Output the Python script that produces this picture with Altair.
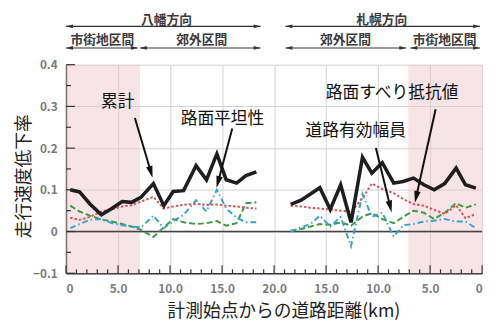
import math
import altair as alt
import pandas as pd

# ---------------- data ----------------
left_km = [0.4, 1.3, 2.3, 3.4, 4.4, 5.4, 6.3, 7.2, 8.4, 9.4, 10.3, 11.3, 12.5, 13.5, 14.5, 15.4, 16.4, 17.3, 18.3]
right_km = [21.6, 22.6, 23.5, 24.4, 25.4, 26.4, 27.4, 28.5, 29.4, 30.4, 31.5, 32.4, 33.4, 34.4, 35.4, 36.4, 37.5, 38.4, 39.4]

total_L = [0.100, 0.095, 0.066, 0.040, 0.055, 0.072, 0.070, 0.082, 0.115, 0.062, 0.096, 0.098, 0.158, 0.124, 0.186, 0.124, 0.116, 0.134, 0.143]
skid_L = [0.033, 0.028, 0.035, 0.048, 0.053, 0.060, 0.063, 0.072, 0.083, 0.055, 0.060, 0.064, 0.066, 0.064, 0.065, 0.062, 0.060, 0.057, 0.055]
flat_L = [0.008, 0.018, 0.028, 0.030, 0.020, 0.015, 0.012, 0.010, 0.038, 0.008, 0.025, 0.040, 0.075, 0.048, 0.100, 0.055, 0.033, 0.022, 0.022]
width_L = [0.062, 0.048, 0.038, 0.029, 0.024, 0.018, 0.012, 0.004, -0.013, 0.010, 0.030, 0.022, 0.018, 0.020, 0.025, 0.014, 0.020, 0.068, 0.070]

total_R = [0.065, 0.075, 0.090, 0.105, 0.053, 0.112, 0.022, 0.178, 0.140, 0.165, 0.116, 0.120, 0.128, 0.112, 0.100, 0.115, 0.152, 0.112, 0.104]
skid_R = [0.062, 0.060, 0.057, 0.055, 0.053, 0.050, 0.047, 0.080, 0.115, 0.102, 0.092, 0.078, 0.066, 0.062, 0.052, 0.042, 0.063, 0.032, 0.042]
flat_R = [0.000, 0.010, 0.018, 0.038, 0.012, 0.035, -0.035, 0.090, 0.035, 0.045, -0.012, 0.015, 0.018, 0.024, 0.026, 0.030, 0.024, 0.024, 0.008]
width_R = [0.002, 0.006, 0.012, 0.018, 0.016, 0.022, 0.014, 0.036, 0.044, 0.030, 0.020, 0.035, 0.050, 0.045, 0.030, 0.045, 0.068, 0.057, 0.065]

# urban (市街地) shaded sections on the 0-40 axis
shade_start = [0.0, 32.9]
shade_end = [7.1, 40.0]

# axis ticks
x_major = [0, 5, 10, 15, 20, 25, 30, 35, 40]
x_minor = [v for v in range(0, 41) if v % 5 != 0]
y_major = [-0.1, 0.0, 0.1, 0.2, 0.3, 0.4]
y_minor = [-0.05, 0.05, 0.15, 0.25, 0.35]

# annotations in plot
ann_text = ["累計", "路面平坦性", "道路有効幅員", "路面すべり抵抗値"]
ann_tx = [4.96, 15.04, 27.85, 31.35]
ann_ty = [0.310, 0.270, 0.242, 0.333]
arr_x0 = [6.62, 15.98, 29.79, 35.53]
arr_y0 = [0.272, 0.247, 0.200, 0.293]
arr_x1 = [8.32, 14.47, 31.30, 33.54]
arr_y1 = [0.129, 0.105, 0.046, 0.069]

# header (direction / section)
dir_text = ["八幡方向", "札幌方向"]
dir_x0 = [0.0, 21.1]
dir_x1 = [18.7, 39.8]
dir_tx = [9.65, 30.35]
sec_text = ["市街地区間", "郊外区間", "郊外区間", "市街地区間"]
sec_x0 = [0.0, 7.1, 21.1, 33.1]
sec_x1 = [6.9, 18.7, 32.7, 39.8]
sec_tx = [3.5, 13.05, 26.86, 36.4]

# ---------------- layout ----------------
W, H = 423, 212
XD = [0, 40]
YD = [-0.1, 0.4]
kx = W / (XD[1] - XD[0])
ky = H / (YD[1] - YD[0])
FONT = "Noto Sans CJK JP"

xs = alt.Scale(domain=XD, nice=False, zero=False)
ys = alt.Scale(domain=YD, nice=False, zero=False)

rows = []
for name, L, R in [("total", total_L, total_R), ("skid", skid_L, skid_R),
                   ("flat", flat_L, flat_R), ("width", width_L, width_R)]:
    for x, y in zip(left_km, L):
        rows.append({"x": x, "y": y, "series": name, "side": "L"})
    for x, y in zip(right_km, R):
        rows.append({"x": x, "y": y, "series": name, "side": "R"})
df = pd.DataFrame(rows)

x_label_expr = ("(datum.value == 0 || datum.value == 40) ? '0' : "
                "format(datum.value <= 20 ? datum.value : 40 - datum.value, '.1f')")
y_label_expr = "datum.value == 0 ? '0' : format(datum.value, '.1f')"

x_axis = alt.Axis(values=x_major, labelExpr=x_label_expr, ticks=False, tickSize=0,
                  grid=True, gridColor="#d2d2d2", gridWidth=1,
                  domainColor="#333333", domainWidth=1.5,
                  labelFont=FONT, labelFontSize=12, labelFontWeight="bold", labelColor="#7a7a7a",
                  labelPadding=11,
                  title="計測始点からの道路距離(km)", titleFont=FONT, titleFontSize=18,
                  titleFontWeight="normal", titleColor="#222222",
                  titleX=221, titleY=30, titleAlign="center", titleBaseline="top")
y_axis = alt.Axis(values=y_major, labelExpr=y_label_expr, ticks=False, tickSize=0,
                  grid=True, gridColor="#d2d2d2", gridWidth=1,
                  domainColor="#333333", domainWidth=1.5,
                  labelFont=FONT, labelFontSize=12, labelFontWeight="bold", labelColor="#7a7a7a",
                  labelPadding=9,
                  title="走行速度低下率", titleFont=FONT, titleFontSize=18,
                  titleFontWeight="normal", titleColor="#222222",
                  titleAngle=270, titleX=-42, titleY=113, titleAlign="center", titleBaseline="middle")


def X(field):
    return alt.X(field, scale=xs, axis=x_axis)


def Y(field):
    return alt.Y(field, scale=ys, axis=y_axis)


# shaded urban sections
shade_df = pd.DataFrame({"a": shade_start, "b": shade_end})
shade_df["lo"] = YD[0]
shade_df["hi"] = YD[1]
shade = alt.Chart(shade_df).mark_rect(color="#eec3c9", opacity=0.45).encode(
    x=X("a:Q"), x2="b:Q", y=Y("lo:Q"), y2="hi:Q",
)

zero = alt.Chart(pd.DataFrame({"z": [0.0]})).mark_rule(color="#444444", strokeWidth=1.5).encode(
    y=Y("z:Q")
)

# inward ticks
xt = pd.DataFrame({"x": x_major + x_minor,
                   "len": [8] * len(x_major) + [4] * len(x_minor)})
xt["y0"] = YD[0]
xt["y1"] = YD[0] + xt["len"] / ky
xticks = alt.Chart(xt).mark_rule(color="#333333", strokeWidth=1.2).encode(
    x=X("x:Q"), y=Y("y0:Q"), y2="y1:Q",
)
yt = pd.DataFrame({"y": y_major + y_minor,
                   "len": [9] * len(y_major) + [5] * len(y_minor)})
yt["x0"] = XD[0]
yt["x1"] = XD[0] + yt["len"] / kx
yticks = alt.Chart(yt).mark_rule(color="#333333", strokeWidth=1.2).encode(
    y=Y("y:Q"), x=X("x0:Q"), x2="x1:Q",
)


def series_line(name, color, width, dash=None):
    kw = dict(color=color, strokeWidth=width, strokeJoin="miter")
    if dash:
        kw["strokeDash"] = dash
    return alt.Chart(df).transform_filter(alt.datum.series == name).mark_line(**kw).encode(
        x=X("x:Q"), y=Y("y:Q"), detail="side:N",
    )


l_width = series_line("width", "#3e9a45", 2, [6, 3])
l_flat = series_line("flat", "#38a3d0", 2, [6, 3, 1.5, 3])
l_skid = series_line("skid", "#d2555a", 2, [2.5, 2])
l_total = series_line("total", "#1e1e1e", 3.6)

# annotation arrows
HEAD = 12.0
ARROW_SHAPE = "M0,-1L0.55,1L-0.55,1Z"
hx, hy, ha = [], [], []
for x0, y0, x1, y1 in zip(arr_x0, arr_y0, arr_x1, arr_y1):
    dxp = (x1 - x0) * kx
    dyp = -(y1 - y0) * ky
    ln = math.hypot(dxp, dyp)
    ux, uy = dxp / ln, dyp / ln
    hx.append(x1 - (HEAD / 2) * ux / kx)
    hy.append(y1 + (HEAD / 2) * uy / ky)
    ha.append(math.degrees(math.atan2(dxp, -dyp)) % 360)

arrows_df = pd.DataFrame({"x0": arr_x0, "y0": arr_y0, "x1": hx, "y1": hy})
arrow_lines = alt.Chart(arrows_df).mark_rule(color="#111111", strokeWidth=2).encode(
    x=X("x0:Q"), y=Y("y0:Q"), x2="x1:Q", y2="y1:Q",
)
heads_df = pd.DataFrame({"x": hx, "y": hy, "a": ha})
arrow_heads = alt.Chart(heads_df).mark_point(
    shape=ARROW_SHAPE, filled=True, color="#111111", size=HEAD * HEAD, opacity=1
).encode(
    x=X("x:Q"), y=Y("y:Q"), angle=alt.Angle("a:Q", scale=None),
)
ann = alt.Chart(pd.DataFrame({"t": ann_text, "x": ann_tx, "y": ann_ty})).mark_text(
    font=FONT, fontSize=17, color="#111111", align="center", baseline="middle"
).encode(x=X("x:Q"), y=Y("y:Q"), text="t:N")

# header arrows
SH = 7.0


def header_row(x0s, x1s, texts, txs, y_line, y_text):
    seg = pd.DataFrame({"x0": x0s, "x1": x1s})
    line = alt.Chart(seg).mark_rule(color="#333333", strokeWidth=1.2).encode(
        x=X("x0:Q"), x2="x1:Q", y=alt.value(y_line)
    )
    hx_ = [v + (SH / 2) / kx for v in x0s] + [v - (SH / 2) / kx for v in x1s]
    ha_ = [270] * len(x0s) + [90] * len(x1s)
    heads = alt.Chart(pd.DataFrame({"x": hx_, "a": ha_})).mark_point(
        shape=ARROW_SHAPE, filled=True, color="#333333", size=SH * SH, opacity=1
    ).encode(
        x=X("x:Q"), y=alt.value(y_line), angle=alt.Angle("a:Q", scale=None),
    )
    txt = alt.Chart(pd.DataFrame({"t": texts, "x": txs})).mark_text(
        font=FONT, fontSize=13, fontWeight="bold", color="#3a3a3a",
        align="center", baseline="middle"
    ).encode(x=X("x:Q"), y=alt.value(y_text), text="t:N")
    return [line, heads, txt]


hdr = header_row(dir_x0, dir_x1, dir_text, dir_tx, -39, -45) + \
    header_row(sec_x0, sec_x1, sec_text, sec_tx, -17, -25)

chart = alt.layer(
    shade, zero, xticks, yticks, l_width, l_flat, l_skid, l_total,
    arrow_lines, arrow_heads, ann, *hdr
).properties(
    width=W, height=H,
    autosize=alt.AutoSizeParams(type="none"),
    padding={"left": 59, "top": 55, "right": 7, "bottom": 50},
    background="white",
).configure_view(stroke=None)

chart.save("out.html", embed_options={"renderer": "svg", "actions": False})
